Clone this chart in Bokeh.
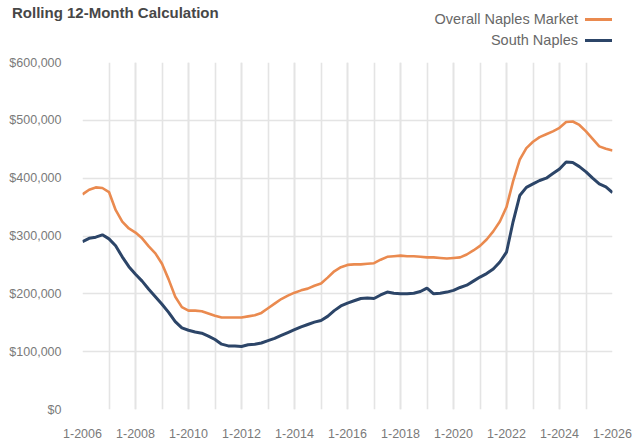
import pandas as pd
from bokeh.plotting import figure
from bokeh.layouts import column
from bokeh.models import FixedTicker, ColumnDataSource, Div
from bokeh.embed import file_html
from bokeh.resources import INLINE

# ---- data (quarterly readings, $ thousands) ----
periods = pd.date_range("2006-01-01", "2026-01-01", freq="QS")

overall_naples_k = [
    372, 380, 384, 383, 376, 345, 325, 313,
    306, 296, 282, 270, 252, 225, 195, 177,
    171, 171, 170, 166, 162, 159, 159, 159,
    159, 161, 163, 167, 175, 183, 191, 197,
    202, 206, 209, 214, 218, 228, 239, 246,
    250, 251, 251, 252, 253, 259, 264, 265,
    266, 265, 265, 264, 263, 263, 262, 261,
    262, 263, 268, 275, 283, 294, 308, 325,
    350, 395, 432, 452, 463, 471, 476, 481,
    487, 497, 498, 492, 481, 468, 455, 451,
    448,
]

south_naples_k = [
    290, 296, 298, 302, 295, 283, 264, 247,
    234, 222, 208, 195, 182, 168, 152, 141,
    137, 134, 132, 127, 121, 113, 110, 110,
    109, 112, 113, 115, 119, 123, 128, 133,
    138, 143, 147, 151, 154, 161, 171, 179,
    184, 188, 192, 193, 192, 198, 203, 201,
    200, 200, 201, 204, 210, 200, 201, 203,
    206, 211, 215, 222, 229, 235, 243, 255,
    272, 325, 370, 384, 390, 396, 400, 408,
    416, 428, 427, 420, 411, 400, 390, 385,
    375,
]

series_names = ["Overall Naples Market", "South Naples"]
series_colors = ["#EA8A4F", "#2C4568"]

x_tick_years = [2006, 2008, 2010, 2012, 2014, 2016, 2018, 2020, 2022, 2024, 2026]
x_tick_labels = ["1-2006", "1-2008", "1-2010", "1-2012", "1-2014", "1-2016",
                 "1-2018", "1-2020", "1-2022", "1-2024", "1-2026"]
x_grid_years = list(range(2006, 2027))
y_ticks = [0, 100000, 200000, 300000, 400000, 500000, 600000]
y_tick_labels = ["$0", "$100,000", "$200,000", "$300,000", "$400,000", "$500,000", "$600,000"]
title_text = "Rolling 12-Month Calculation"

FONT = "Liberation Sans"
W = 642
HEADER_H = 54
MAIN_H = 386
LEFT = 82
RIGHT = 30

xs = [d.year + (d.month - 1) / 12 for d in periods]
src = ColumnDataSource(dict(
    x=xs,
    overall=[v * 1000 for v in overall_naples_k],
    south=[v * 1000 for v in south_naples_k],
))

# ---- header (title + legend) as HTML ----
leg_center = [19, 40]
parts = [
    f'<div style="position:relative;width:{W}px;height:{HEADER_H}px;'
    f'font-family:\'{FONT}\',sans-serif;margin:0;padding:0;">',
    f'<span style="position:absolute;left:12px;top:5px;font-size:15px;font-weight:bold;'
    f'color:#474747;line-height:16px;white-space:nowrap;">{title_text}</span>',
]
for name, color, cy in zip(series_names, series_colors, leg_center):
    parts.append(
        f'<span style="position:absolute;right:{W - 578}px;top:{cy - 8}px;font-size:14.5px;'
        f'color:#686868;line-height:16px;white-space:nowrap;">{name}</span>')
    parts.append(
        f'<span style="position:absolute;left:585px;top:{cy - 1.5}px;width:27px;height:3px;'
        f'background:{color};"></span>')
parts.append('</div>')
hdr = Div(text="".join(parts), width=W, height=HEADER_H, margin=0)

# ---- main chart ----
p = figure(width=W, height=MAIN_H, x_range=(2006, 2026), y_range=(0, 600000),
           output_backend="svg", toolbar_location=None,
           min_border_left=LEFT, min_border_right=RIGHT, min_border_top=8, min_border_bottom=30)
p.outline_line_color = None

p.xgrid.grid_line_color = "#e4e4e4"
p.xgrid.grid_line_width = 1.6
p.xgrid.minor_grid_line_color = "#e4e4e4"
p.xgrid.minor_grid_line_width = 1.6
p.ygrid.grid_line_color = "#e4e4e4"
p.ygrid.grid_line_width = 1.6

p.xaxis.ticker = FixedTicker(ticks=x_tick_years, minor_ticks=x_grid_years)
p.xaxis.major_label_overrides = dict(zip(x_tick_years, x_tick_labels))
p.yaxis.ticker = FixedTicker(ticks=y_ticks)
p.yaxis.major_label_overrides = dict(zip(y_ticks, y_tick_labels))
for ax in (p.xaxis, p.yaxis):
    ax.axis_line_color = None
    ax.major_tick_line_color = None
    ax.minor_tick_line_color = None
    ax.major_label_text_font = FONT
    ax.major_label_text_font_size = "12.5px"
    ax.major_label_text_color = "#7a7a7a"
p.xaxis.major_label_standoff = 13
p.yaxis.major_label_standoff = 15

p.line("x", "overall", source=src, line_color=series_colors[0], line_width=2.6)
p.line("x", "south", source=src, line_color=series_colors[1], line_width=3)

layout = column(hdr, p, spacing=0)
open("out.html", "w").write(file_html(layout, INLINE))
